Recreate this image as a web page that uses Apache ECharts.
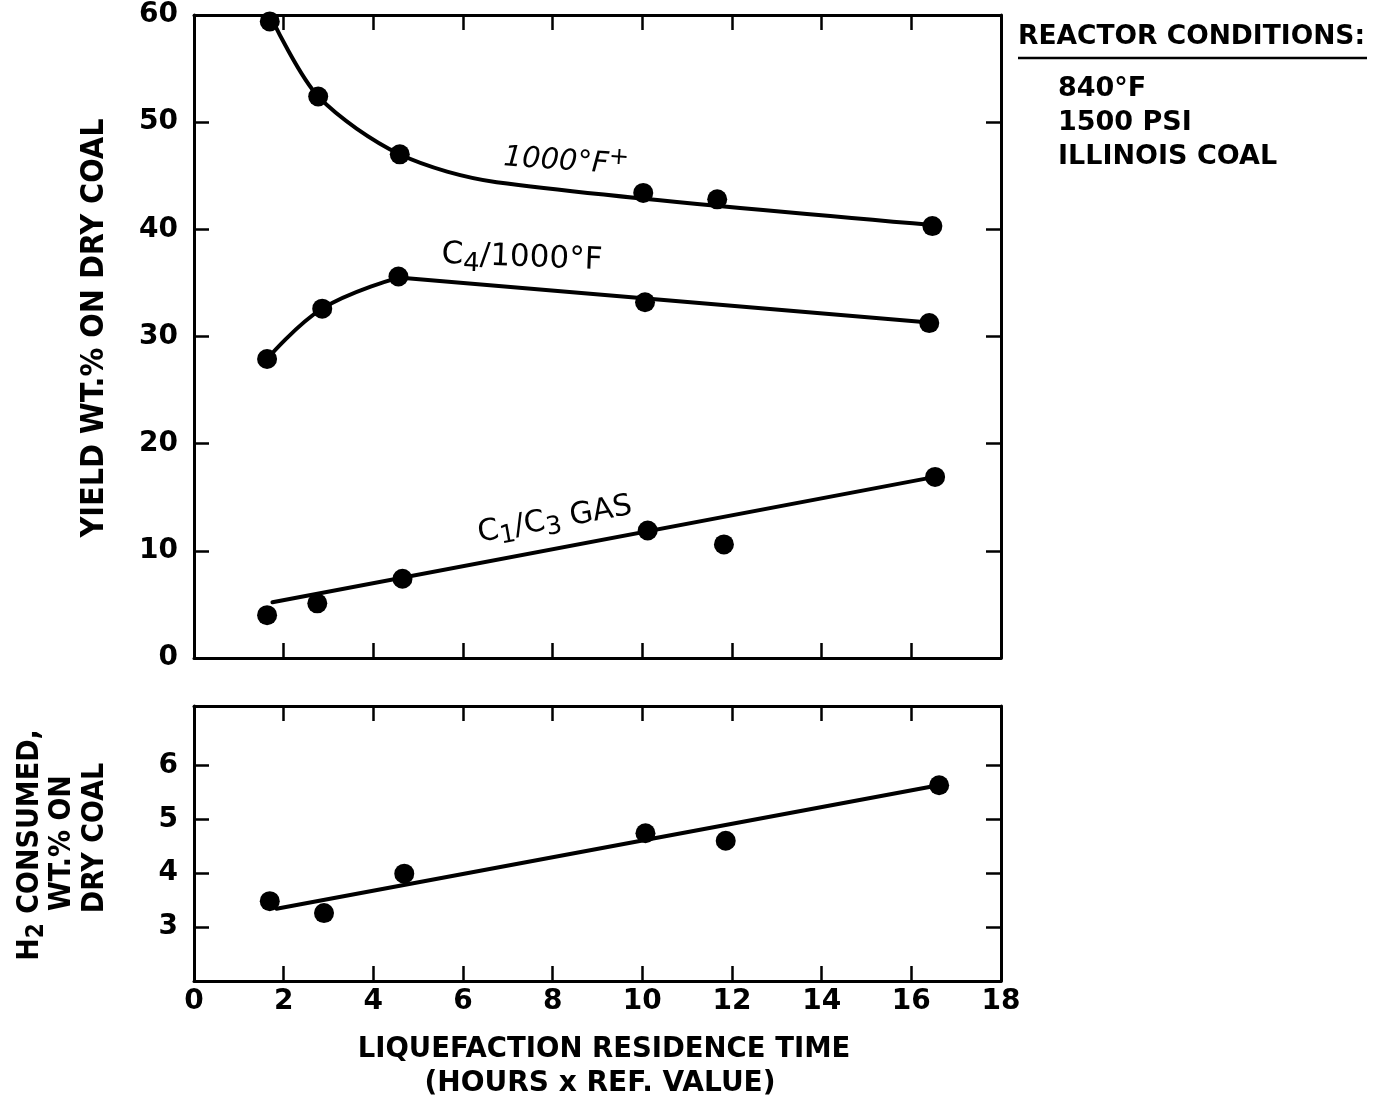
<!DOCTYPE html>
<html><head><meta charset="utf-8">
<script src="https://cdn.jsdelivr.net/npm/echarts@6/dist/echarts.min.js"></script>
<style>html,body{margin:0;padding:0;background:#fff}#c{width:1374px;height:1102px}</style>
</head><body><div id="c"></div>
<script>
// ---- data ----
const xTicks = [0, 2, 4, 6, 8, 10, 12, 14, 16, 18];
const yTopTicks = [0, 10, 20, 30, 40, 50, 60];
const yBottomTicks = [3, 4, 5, 6];

// measured points
const heavyX = [1.69, 2.77, 4.59, 10.02, 11.67, 16.47];
const heavyY = [59.4, 52.4, 47.0, 43.4, 42.8, 40.3];
const c4X = [1.63, 2.86, 4.56, 10.06, 16.4];
const c4Y = [27.9, 32.6, 35.6, 33.2, 31.25];
const gasX = [1.63, 2.75, 4.65, 10.12, 11.82, 16.53];
const gasY = [4.0, 5.1, 7.4, 11.9, 10.6, 16.9];
const h2X = [1.69, 2.9, 4.69, 10.07, 11.86, 16.62];
const h2Y = [3.48, 3.26, 3.99, 4.74, 4.6, 5.63];

// fitted curves as drawn in the reference
const heavyCurveX = [1.75, 2.77, 4.59, 6.75, 16.47];
const heavyCurveY = [59.5, 52.4, 47.0, 44.4, 40.4];
const c4CurveX = [1.63, 2.86, 4.56];
const c4CurveY = [27.9, 32.6, 35.5];
const c4StraightX = [4.56, 16.4];
const c4StraightY = [35.5, 31.3];
const gasLineX = [1.75, 16.53];
const gasLineY = [5.2, 16.9];
const h2LineX = [1.84, 16.55];
const h2LineY = [3.34, 5.62];

const zip = (a, b) => a.map((v, i) => [v, b[i]]);
const BLACK = '#000';
const NUMF = '"DejaVu Sans", sans-serif';
const CONDF = '"DejaVu Sans Condensed", "Liberation Sans Narrow", sans-serif';
const TXTF = '"DejaVu Sans", sans-serif';

const tick = () => ({show: true, inside: true, length: 15, lineStyle: {color: BLACK, width: 2.5}});
const axLine = () => ({show: true, onZero: false, lineStyle: {color: BLACK, width: 3}});

const chart = echarts.init(document.getElementById('c'), null, {renderer: 'canvas'});

function lineSeries(x, y, xi, yi, smooth) {
  return {type: 'line', xAxisIndex: xi, yAxisIndex: yi, data: zip(x, y), showSymbol: false,
    smooth: smooth || false,
    lineStyle: {color: BLACK, width: 4, cap: 'round'}, silent: true, z: 2};
}
function dotSeries(x, y, xi, yi) {
  return {type: 'scatter', xAxisIndex: xi, yAxisIndex: yi, data: zip(x, y), symbol: 'circle',
    symbolSize: 20, itemStyle: {color: BLACK, opacity: 1}, silent: true, z: 3};
}
function xAx(grid, pos, labels) {
  return {gridIndex: grid, type: 'value', min: 0, max: 18, interval: 2, position: pos,
    axisLine: axLine(), axisTick: tick(), splitLine: {show: false},
    axisLabel: labels ? {show: true, margin: 7, color: BLACK, fontSize: 28, fontWeight: 'bold',
      fontFamily: NUMF, customValues: xTicks} : {show: false}};
}

const option = {
  backgroundColor: '#fff',
  animation: false,
  grid: [
    {left: 194, width: 807, top: 15, height: 643},
    {left: 194, width: 807, top: 706, height: 275}
  ],
  xAxis: [xAx(0, 'bottom', false), xAx(0, 'top', false), xAx(1, 'bottom', true), xAx(1, 'top', false)],
  yAxis: [
    {gridIndex: 0, type: 'value', min: 0, max: 60, interval: 10, position: 'left',
      axisLine: axLine(), axisTick: tick(),
      axisLabel: {show: true, margin: 16, color: BLACK, fontSize: 28, fontWeight: 'bold', fontFamily: NUMF,
        customValues: yTopTicks}, splitLine: {show: false}},
    {gridIndex: 0, type: 'value', min: 0, max: 60, interval: 10, position: 'right',
      axisLine: axLine(), axisTick: tick(), axisLabel: {show: false}, splitLine: {show: false}},
    {gridIndex: 1, type: 'value', min: 2, max: 7.1, interval: 1, position: 'left',
      axisLine: axLine(), axisTick: Object.assign(tick(), {customValues: yBottomTicks}),
      axisLabel: {show: true, margin: 16, color: BLACK, fontSize: 28, fontWeight: 'bold', fontFamily: NUMF,
        customValues: yBottomTicks}, splitLine: {show: false}},
    {gridIndex: 1, type: 'value', min: 2, max: 7.1, interval: 1, position: 'right',
      axisLine: axLine(), axisTick: Object.assign(tick(), {customValues: yBottomTicks}),
      axisLabel: {show: false}, splitLine: {show: false}}
  ],
  series: [
    lineSeries(heavyCurveX, heavyCurveY, 0, 0, 0.3),
    lineSeries(c4CurveX, c4CurveY, 0, 0, 0.4),
    lineSeries(c4StraightX, c4StraightY, 0, 0, false),
    lineSeries(gasLineX, gasLineY, 0, 0, false),
    lineSeries(h2LineX, h2LineY, 2, 2, false),
    dotSeries(heavyX, heavyY, 0, 0),
    dotSeries(c4X, c4Y, 0, 0),
    dotSeries(gasX, gasY, 0, 0),
    dotSeries(h2X, h2Y, 2, 2)
  ],
  graphic: [
    // series labels
    {type: 'text', x: 566, y: 162, rotation: -0.07,
      style: {text: '{a|1000°F}{s|+}', align: 'center', verticalAlign: 'middle',
        rich: {a: {fontSize: 29, fontFamily: TXTF, fontStyle: 'italic', fill: BLACK},
               s: {fontSize: 24, fontFamily: TXTF, fill: BLACK, padding: [0, 0, 16, 0]}}}},
    {type: 'text', x: 522, y: 258, rotation: -0.04,
      style: {text: '{a|C}{s|4}{a|/1000°F}', align: 'center', verticalAlign: 'middle',
        rich: {a: {fontSize: 31, fontFamily: TXTF, fill: BLACK},
               s: {fontSize: 26, fontFamily: TXTF, fill: BLACK, padding: [16, 0, 0, 0]}}}},
    {type: 'text', x: 555, y: 520, rotation: 0.18,
      style: {text: '{a|C}{s|1}{a|/C}{s|3}{a| GAS}', align: 'center', verticalAlign: 'middle',
        rich: {a: {fontSize: 30, fontFamily: TXTF, fill: BLACK},
               s: {fontSize: 25, fontFamily: TXTF, fill: BLACK, padding: [14, 0, 0, 0]}}}},
    // axis titles
    {type: 'text', x: 95, y: 328, rotation: Math.PI / 2,
      style: {text: 'YIELD WT.% ON DRY COAL', align: 'center', verticalAlign: 'middle',
        font: 'bold 32px ' + CONDF, fill: BLACK}},
    {type: 'text', x: 30, y: 845, rotation: Math.PI / 2,
      style: {text: '{a|H}{s|2}{a| CONSUMED,}', align: 'center', verticalAlign: 'middle',
        rich: {a: {fontSize: 30, fontWeight: 'bold', fontFamily: CONDF, fill: BLACK},
               s: {fontSize: 24, fontWeight: 'bold', fontFamily: CONDF, fill: BLACK, padding: [14, 0, 0, 0]}}}},
    {type: 'text', x: 62, y: 843, rotation: Math.PI / 2,
      style: {text: 'WT.% ON', align: 'center', verticalAlign: 'middle',
        font: 'bold 30px ' + CONDF, fill: BLACK}},
    {type: 'text', x: 95, y: 838, rotation: Math.PI / 2,
      style: {text: 'DRY COAL', align: 'center', verticalAlign: 'middle',
        font: 'bold 30px ' + CONDF, fill: BLACK}},
    {type: 'text', x: 604, y: 1050,
      style: {text: 'LIQUEFACTION RESIDENCE TIME', align: 'center', verticalAlign: 'middle',
        font: 'bold 27.5px ' + TXTF, fill: BLACK}},
    {type: 'text', x: 600, y: 1084,
      style: {text: '(HOURS x REF. VALUE)', align: 'center', verticalAlign: 'middle',
        font: 'bold 28px ' + TXTF, fill: BLACK}},
    // reactor conditions
    {type: 'text', x: 1018, y: 37,
      style: {text: 'REACTOR CONDITIONS:', align: 'left', verticalAlign: 'middle',
        font: 'bold 26.5px ' + TXTF, fill: BLACK}},
    {type: 'line', shape: {x1: 1018, y1: 58, x2: 1367, y2: 58}, style: {stroke: BLACK, lineWidth: 2.5}},
    {type: 'text', x: 1058, y: 89,
      style: {text: '840°F', align: 'left', verticalAlign: 'middle', font: 'bold 27px ' + TXTF, fill: BLACK}},
    {type: 'text', x: 1058, y: 123,
      style: {text: '1500 PSI', align: 'left', verticalAlign: 'middle', font: 'bold 27px ' + TXTF, fill: BLACK}},
    {type: 'text', x: 1058, y: 157,
      style: {text: 'ILLINOIS COAL', align: 'left', verticalAlign: 'middle', font: 'bold 27px ' + TXTF, fill: BLACK}}
  ]
};
chart.setOption(option);
</script></body></html>
